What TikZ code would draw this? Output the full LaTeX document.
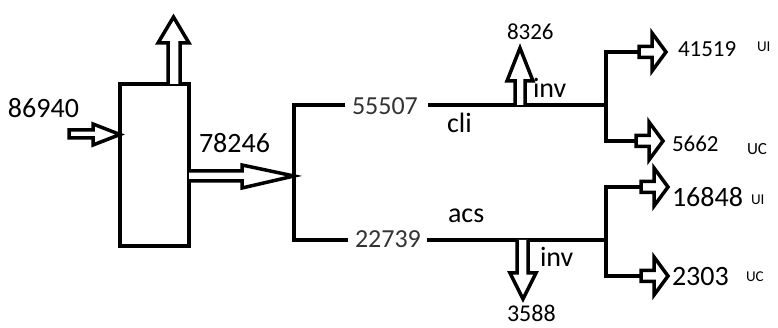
\documentclass[tikz,border=0pt]{standalone}
\usepackage{fontspec}
\setmainfont{Carlito}
\begin{document}
\begin{tikzpicture}[x=1pt,y=-1pt,
  ln/.style={line width=4pt},
  blk/.style={draw, line width=3.5pt, fill=white, line join=miter},
  lbl/.style={inner sep=0pt, outer sep=0pt, anchor=base west},
  big/.style={font=\fontsize{28}{30}\selectfont},
  mid/.style={font=\fontsize{26}{28}\selectfont},
  sml/.style={font=\fontsize{23}{25}\selectfont},
  tiny/.style={font=\fontsize{15}{16}\selectfont},
  rarrow/.pic={\draw[blk] (0,-5.5) -- (13,-5.5) -- (13,-19) -- (27,0) -- (13,19) -- (13,5.5) -- (0,5.5) -- cycle;}
]
\useasboundingbox (0,0) rectangle (778,328);

% main box
\node[draw, line width=4pt, minimum width=69pt, minimum height=162pt, inner sep=0pt, outer sep=0pt] (box) at (154.5,165) {};

% labels
\node[lbl, big] (n86940) at (8,118) {86940};
\node[lbl, big] (n78246) at (199,153) {78246};
\node[lbl, mid, text=black!80] (n55507) at (352,115) {55507};
\node[lbl, mid, text=black!80] (n22739) at (355,248) {22739};
\node[lbl, big] (ncli) at (447,133) {cli};
\node[lbl, big] (nacs) at (448,223) {acs};
\node[lbl, big] (ninvu) at (533,98) {inv};
\node[lbl, big] (ninvd) at (540,267) {inv};
\node[lbl, sml] (n8326) at (507,40) {8326};
\node[lbl, font=\fontsize{24}{26}\selectfont] (n3588) at (507,321) {3588};
\node[lbl, sml] (n41519) at (678,57) {41519};
\node[lbl, tiny] (nui1) at (757,52) {UI};
\node[lbl, sml] (n5662) at (672,152) {5662};
\node[lbl, font=\fontsize{17}{18}\selectfont] (nuc1) at (747,155) {UC};
\node[lbl, big] (n16848) at (672,207) {16848};
\node[lbl, tiny] (nui2) at (751,205) {UI};
\node[lbl, big] (n2303) at (672,285) {2303};
\node[lbl, tiny] (nuc2) at (746,282) {UC};

% junction coordinates
\coordinate (tl) at (294,105);
\coordinate (bl) at (294,240);
\coordinate (ju) at (606,105);
\coordinate (jd) at (606,240);
\coordinate (ta) at (639,52);
\coordinate (tb) at (636,141);
\coordinate (tc) at (641,187);
\coordinate (td) at (641,276);

% box up arrow
\draw[blk] (box.north -| 168,0) -- (168,43) -- (158,43) -- (173.5,17) -- (189,43) -- (180,43) -- (box.north -| 180,0);
% input arrow
\draw[blk] (69,130) -- (93,130) -- (93,124) -- (box.west |- 0,134.5) -- (93,145) -- (93,138) -- (69,138) -- cycle;
% output arrow
\draw[blk] (box.east |- 0,171) -- (242,171) -- (242,165) -- (tl |- 0,176) -- (242,188) -- (242,181) -- (box.east |- 0,181);

% left fork
\draw[ln, shorten >=7pt, shorten <=7pt] (tl -| n55507.west) -- (tl) -- (bl) -- (bl -| n22739.west);
\draw[ln, shorten <=10pt] (n55507.east |- ju) -- (ju);
\draw[ln, shorten <=6pt] (n22739.east |- jd) -- (jd);

% inv arrows
\draw[blk] (515,105) -- (515,81) -- (507,81) -- (520,48) -- (533,81) -- (525,81) -- (525,105);
\draw[blk] (517,240) -- (517,273) -- (510,273) -- (523,299) -- (536,273) -- (528,273) -- (528,240);

% right forks
\draw[ln] (ta) -- (ta -| ju) -- (tb -| ju) -- (tb);
\draw[ln] (tc) -- (tc -| jd) -- (td -| jd) -- (td);
\pic at (ta) {rarrow};
\pic at (tb) {rarrow};
\pic at (tc) {rarrow};
\pic at (td) {rarrow};
\end{tikzpicture}
\end{document}
